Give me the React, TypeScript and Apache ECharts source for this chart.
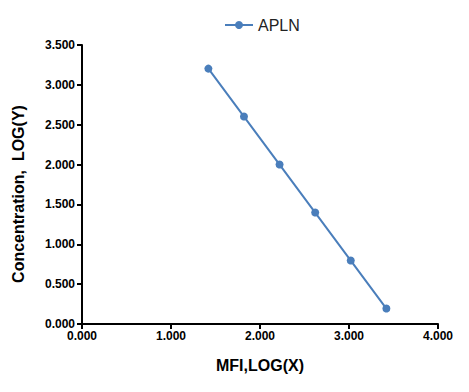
import React, { useEffect, useRef } from "react";
import * as echarts from "echarts";

const seriesName = "APLN";
const xValues = [1.42, 1.82, 2.22, 2.62, 3.02, 3.42];
const yValues = [3.204, 2.602, 2.0, 1.398, 0.796, 0.194];
const xTitle = "MFI,LOG(X)";
const yTitle = "Concentration,  LOG(Y)";

export default function App() {
  const ref = useRef<HTMLDivElement>(null);
  useEffect(() => {
    if (!ref.current) return;
    const chart = echarts.init(ref.current, null, { renderer: "svg" });
    const font = "'Liberation Sans', Arial, sans-serif";
    chart.setOption({
      animation: false,
      backgroundColor: "#ffffff",
      textStyle: { fontFamily: font },
      legend: {
        data: [seriesName],
        left: 219,
        top: 12,
        itemWidth: 28,
        itemHeight: 10,
        itemGap: 5,
        textStyle: { fontFamily: font, fontSize: 16, color: "#222" },
      },
      graphic: [
        {
          type: "text",
          x: 18,
          y: 194,
          rotation: Math.PI / 2,
          style: {
            text: yTitle,
            fontFamily: font,
            fontSize: 16,
            fontWeight: "bold",
            fill: "#000",
            align: "center",
            verticalAlign: "middle",
          },
        },
      ],
      grid: { left: 82, right: 31, top: 45, bottom: 68, containLabel: false },
      xAxis: {
        type: "value",
        min: 0,
        max: 4,
        interval: 1,
        name: xTitle,
        nameLocation: "middle",
        nameGap: 33,
        nameTextStyle: { fontFamily: font, fontSize: 16, fontWeight: "bold", color: "#000" },
        axisLine: { show: true, lineStyle: { color: "#000", width: 2 } },
        axisTick: { show: true, inside: false, length: 5, lineStyle: { color: "#000", width: 2 } },
        axisLabel: {
          fontFamily: font,
          fontSize: 12,
          fontWeight: "bold",
          color: "#000",
          margin: 6,
          formatter: (v: number) => v.toFixed(3),
        },
        splitLine: { show: false },
      },
      yAxis: {
        type: "value",
        min: 0,
        max: 3.5,
        interval: 0.5,
        axisLine: { show: true, lineStyle: { color: "#000", width: 2 } },
        axisTick: { show: true, inside: false, length: 5, lineStyle: { color: "#000", width: 2 } },
        axisLabel: {
          fontFamily: font,
          fontSize: 12,
          fontWeight: "bold",
          color: "#000",
          margin: 7,
          formatter: (v: number) => v.toFixed(3),
        },
        splitLine: { show: false },
      },
      series: [
        {
          name: seriesName,
          type: "line",
          data: xValues.map((x, i) => [x, yValues[i]]),
          symbol: "circle",
          symbolSize: 8,
          itemStyle: { color: "#4a7ebb" },
          lineStyle: { color: "#4a7ebb", width: 2 },
        },
      ],
    });
    return () => chart.dispose();
  }, []);
  return <div ref={ref} style={{ width: 469, height: 392, position: "absolute", left: 0, top: 0 }} />;
}
